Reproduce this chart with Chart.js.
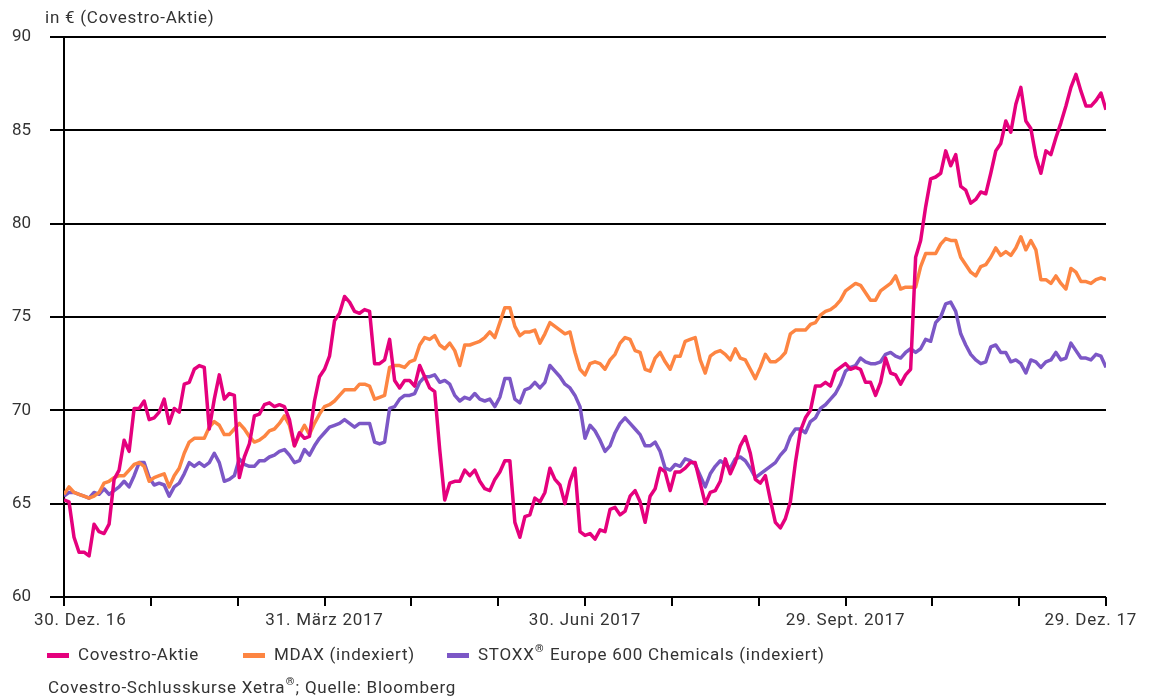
<!DOCTYPE html>
<html>
<head>
<meta charset="utf-8">
<script src="https://cdn.jsdelivr.net/npm/chart.js@4.4.1/dist/chart.umd.min.js"></script>
<style>
  html, body { margin: 0; padding: 0; background: #fff; }
</style>
</head>
<body>
<canvas id="myChart" width="1153" height="699"></canvas>
<script>
// closing prices, sampled every quarter week from 30.12.2016 to 29.12.2017
var covestro = [
  65.2, 65.1, 63.2, 62.4, 62.4, 62.2, 63.9, 63.5, 63.4, 63.9,
  66.3, 66.8, 68.4, 67.8, 70.1, 70.1, 70.5, 69.5, 69.6, 69.9,
  70.6, 69.3, 70.1, 69.9, 71.4, 71.5, 72.2, 72.4, 72.3, 69.0,
  70.6, 71.9, 70.6, 70.9, 70.8, 66.4, 67.5, 68.2, 69.7, 69.8,
  70.3, 70.4, 70.2, 70.3, 70.2, 69.5, 68.1, 68.8, 68.5, 68.6,
  70.5, 71.8, 72.2, 72.9, 74.8, 75.2, 76.1, 75.8, 75.3, 75.2,
  75.4, 75.3, 72.5, 72.5, 72.7, 73.8, 71.6, 71.2, 71.6, 71.6,
  71.3, 72.4, 71.8, 71.2, 71.0, 67.9, 65.2, 66.1, 66.2, 66.2,
  66.8, 66.5, 66.8, 66.2, 65.8, 65.7, 66.3, 66.7, 67.3, 67.3,
  64.0, 63.2, 64.3, 64.4, 65.3, 65.1, 65.6, 66.9, 66.3, 66.0,
  65.0, 66.2, 66.9, 63.5, 63.3, 63.4, 63.1, 63.6, 63.5, 64.7,
  64.8, 64.4, 64.6, 65.4, 65.7, 65.1, 64.0, 65.4, 65.8, 66.9,
  66.7, 65.7, 66.7, 66.7, 66.9, 67.2, 67.2, 66.1, 65.0, 65.6,
  65.7, 66.2, 67.4, 66.6, 67.2, 68.1, 68.6, 67.7, 66.3, 66.1,
  66.5, 65.2, 64.0, 63.7, 64.2, 65.1, 67.2, 68.9, 69.6, 70.0,
  71.3, 71.3, 71.5, 71.3, 72.1, 72.3, 72.5, 72.2, 72.3, 72.2,
  71.5, 71.5, 70.8, 71.5, 72.8, 72.0, 71.9, 71.4, 71.9, 72.2,
  78.2, 79.1, 80.9, 82.4, 82.5, 82.7, 83.9, 83.1, 83.7, 82.0,
  81.8, 81.1, 81.3, 81.7, 81.6, 82.7, 83.9, 84.3, 85.5, 84.9,
  86.4, 87.3, 85.5, 85.1, 83.6, 82.7, 83.9, 83.7, 84.6, 85.4,
  86.3, 87.3, 88.0, 87.1, 86.3, 86.3, 86.6, 87.0, 86.1
];
var mdax = [
  65.5, 65.9, 65.6, 65.5, 65.4, 65.3, 65.4, 65.6, 66.1, 66.2,
  66.4, 66.5, 66.5, 66.8, 67.1, 67.2, 67.0, 66.2, 66.4, 66.5,
  66.6, 65.9, 66.5, 66.9, 67.7, 68.3, 68.5, 68.5, 68.5, 69.1,
  69.4, 69.2, 68.7, 68.7, 69.0, 69.3, 69.0, 68.6, 68.3, 68.4,
  68.6, 68.9, 69.0, 69.3, 69.7, 69.2, 68.1, 68.7, 69.2, 68.7,
  69.3, 69.8, 70.2, 70.3, 70.5, 70.8, 71.1, 71.1, 71.1, 71.4,
  71.4, 71.3, 70.6, 70.7, 70.8, 72.3, 72.4, 72.4, 72.3, 72.6,
  72.7, 73.5, 73.9, 73.8, 74.0, 73.5, 73.3, 73.6, 73.2, 72.4,
  73.5, 73.5, 73.6, 73.7, 73.9, 74.2, 73.9, 74.7, 75.5, 75.5,
  74.5, 74.0, 74.2, 74.2, 74.3, 73.6, 74.1, 74.7, 74.5, 74.3,
  74.1, 74.2, 73.1, 72.2, 71.9, 72.5, 72.6, 72.5, 72.2, 72.7,
  73.0, 73.6, 73.9, 73.8, 73.2, 73.1, 72.2, 72.1, 72.8, 73.1,
  72.6, 72.2, 72.9, 72.9, 73.7, 73.8, 73.9, 72.7, 72.0, 72.9,
  73.1, 73.2, 73.0, 72.7, 73.3, 72.8, 72.7, 72.2, 71.7, 72.3,
  73.0, 72.6, 72.6, 72.8, 73.1, 74.1, 74.3, 74.3, 74.3, 74.6,
  74.7, 75.1, 75.3, 75.4, 75.6, 75.9, 76.4, 76.6, 76.8, 76.7,
  76.3, 75.9, 75.9, 76.4, 76.6, 76.8, 77.2, 76.5, 76.6, 76.6,
  76.6, 77.7, 78.4, 78.4, 78.4, 78.9, 79.2, 79.1, 79.1, 78.2,
  77.8, 77.4, 77.2, 77.7, 77.8, 78.2, 78.7, 78.3, 78.5, 78.3,
  78.7, 79.3, 78.6, 79.1, 78.6, 77.0, 77.0, 76.8, 77.2, 76.8,
  76.5, 77.6, 77.4, 76.9, 76.9, 76.8, 77.0, 77.1, 77.0
];
var stoxx = [
  65.4, 65.6, 65.6, 65.5, 65.4, 65.3, 65.6, 65.5, 65.8, 65.5,
  65.7, 65.9, 66.2, 65.9, 66.5, 67.2, 67.2, 66.4, 66.0, 66.1,
  66.0, 65.4, 65.9, 66.1, 66.6, 67.2, 67.0, 67.2, 67.0, 67.2,
  67.7, 67.2, 66.2, 66.3, 66.5, 67.4, 67.1, 67.0, 67.0, 67.3,
  67.3, 67.5, 67.6, 67.8, 67.9, 67.6, 67.2, 67.3, 67.9, 67.6,
  68.1, 68.5, 68.8, 69.1, 69.2, 69.3, 69.5, 69.3, 69.1, 69.3,
  69.3, 69.3, 68.3, 68.2, 68.3, 70.1, 70.2, 70.6, 70.8, 70.8,
  70.9, 71.5, 71.8, 71.8, 71.9, 71.5, 71.6, 71.4, 70.8, 70.5,
  70.7, 70.6, 70.9, 70.6, 70.5, 70.6, 70.2, 70.7, 71.7, 71.7,
  70.6, 70.4, 71.1, 71.2, 71.5, 71.2, 71.5, 72.4, 72.1, 71.8,
  71.4, 71.2, 70.8, 70.2, 68.5, 69.2, 68.9, 68.4, 67.8, 68.1,
  68.8, 69.3, 69.6, 69.3, 69.0, 68.7, 68.1, 68.1, 68.3, 67.8,
  66.9, 66.8, 67.1, 67.0, 67.4, 67.3, 67.1, 66.5, 65.9, 66.6,
  67.0, 67.3, 67.1, 66.9, 67.4, 67.5, 67.3, 66.9, 66.4, 66.6,
  66.8, 67.0, 67.2, 67.6, 67.9, 68.6, 69.0, 69.0, 68.8, 69.4,
  69.6, 70.1, 70.3, 70.6, 70.9, 71.4, 72.1, 72.3, 72.4, 72.8,
  72.6, 72.5, 72.5, 72.6, 73.0, 73.1, 72.9, 72.8, 73.1, 73.3,
  73.1, 73.3, 73.8, 73.7, 74.7, 75.0, 75.7, 75.8, 75.3, 74.1,
  73.5, 73.0, 72.7, 72.5, 72.6, 73.4, 73.5, 73.1, 73.1, 72.6,
  72.7, 72.5, 72.0, 72.7, 72.6, 72.3, 72.6, 72.7, 73.1, 72.7,
  72.8, 73.6, 73.2, 72.8, 72.8, 72.7, 73.0, 72.9, 72.3
];
var seriesNames = ["Covestro-Aktie", "MDAX (indexiert)", "STOXX® Europe 600 Chemicals (indexiert)"];
var seriesColors = ["#e5007d", "#fd8542", "#7c57c6"];
// one tick per month end, label only every quarter
var monthLabels = ["30. Dez. 16", "", "", "31. März 2017", "", "", "30. Juni 2017", "", "", "29. Sept. 2017", "", "", "29. Dez. 17"];
var yTicks = [60, 65, 70, 75, 80, 85, 90];
var yTitle = "in € (Covestro-Aktie)";
var sourceNote = "Covestro-Schlusskurse Xetra®; Quelle: Bloomberg";

var textColor = "#333333";
var fontFamily = "Roboto, 'Liberation Sans', sans-serif";
var lastIndex = covestro.length - 1;

function toPoints(values) {
  return values.map(function (v, i) { return { x: i, y: v }; });
}

// draws text, with every "®" set as a small superscript
function drawRich(ctx, text, x, y, size) {
  var parts = text.split("®");
  for (var p = 0; p < parts.length; p++) {
    ctx.font = size + "px " + fontFamily;
    ctx.fillText(parts[p], x, y);
    x += ctx.measureText(parts[p]).width;
    if (p < parts.length - 1) {
      ctx.font = "bold " + Math.round(size * 0.62) + "px " + fontFamily;
      ctx.fillText("®", x + 0.5, y - size * 0.38);
      x += ctx.measureText("®").width + 1;
    }
  }
}

var textPlugin = {
  id: "texts",
  afterDraw: function (chart) {
    var ctx = chart.ctx;
    var xs = chart.scales.x;
    ctx.save();
    ctx.fillStyle = textColor;
    ctx.textBaseline = "middle";
    ctx.textAlign = "left";
    ctx.letterSpacing = "0.75px";

    // axis title
    ctx.font = "17px " + fontFamily;
    ctx.fillText(yTitle, 45, 19);

    // x labels, kept inside the page
    ctx.font = "17px " + fontFamily;
    for (var k = 0; k < monthLabels.length; k++) {
      if (!monthLabels[k]) continue;
      var px = xs.getPixelForValue(lastIndex * k / (monthLabels.length - 1));
      var w = ctx.measureText(monthLabels[k]).width;
      var left = Math.min(Math.max(px - w / 2, 34), 1137 - w);
      ctx.fillText(monthLabels[k], left, 621);
    }

    // legend
    var legendX = [47, 243, 447];
    for (var s = 0; s < seriesNames.length; s++) {
      ctx.fillStyle = seriesColors[s];
      ctx.fillRect(legendX[s], 653, 22, 5);
      ctx.fillStyle = textColor;
      drawRich(ctx, seriesNames[s], legendX[s] + 31, 656, 17);
    }

    // source
    drawRich(ctx, sourceNote, 48, 689, 17);
    ctx.restore();
  }
};

var datasets = [covestro, mdax, stoxx].map(function (values, s) {
  return {
    label: seriesNames[s],
    data: toPoints(values),
    borderColor: seriesColors[s],
    backgroundColor: seriesColors[s],
    borderWidth: 3.5,
    pointRadius: 0,
    tension: 0,
    borderJoinStyle: "round",
    fill: false
  };
});

new Chart("myChart", {
  type: "line",
  data: { datasets: datasets },
  plugins: [textPlugin],
  options: {
    responsive: false,
    animation: false,
    layout: { padding: { top: 37, right: 47, left: 0, bottom: 0 } },
    plugins: {
      legend: { display: false },
      tooltip: { enabled: false }
    },
    scales: {
      x: {
        type: "linear",
        min: 0,
        max: lastIndex,
        afterBuildTicks: function (scale) {
          scale.ticks = monthLabels.map(function (l, k) {
            return { value: lastIndex * k / (monthLabels.length - 1) };
          });
        },
        afterFit: function (scale) { scale.height = 102; },
        ticks: { display: false },
        grid: { drawOnChartArea: false, drawTicks: true, tickLength: 9, color: "#000", lineWidth: 2 },
        border: { display: false }
      },
      y: {
        min: 60,
        max: 90,
        afterBuildTicks: function (scale) {
          scale.ticks = yTicks.map(function (v) { return { value: v }; });
        },
        afterFit: function (scale) { scale.width = 64; },
        ticks: { padding: 19, color: textColor, font: { family: fontFamily, size: 17 } },
        grid: { color: "#000", lineWidth: 2, tickLength: 14, drawTicks: true },
        border: { display: true, color: "#000", width: 2 }
      }
    }
  }
});
</script>
</body>
</html>
